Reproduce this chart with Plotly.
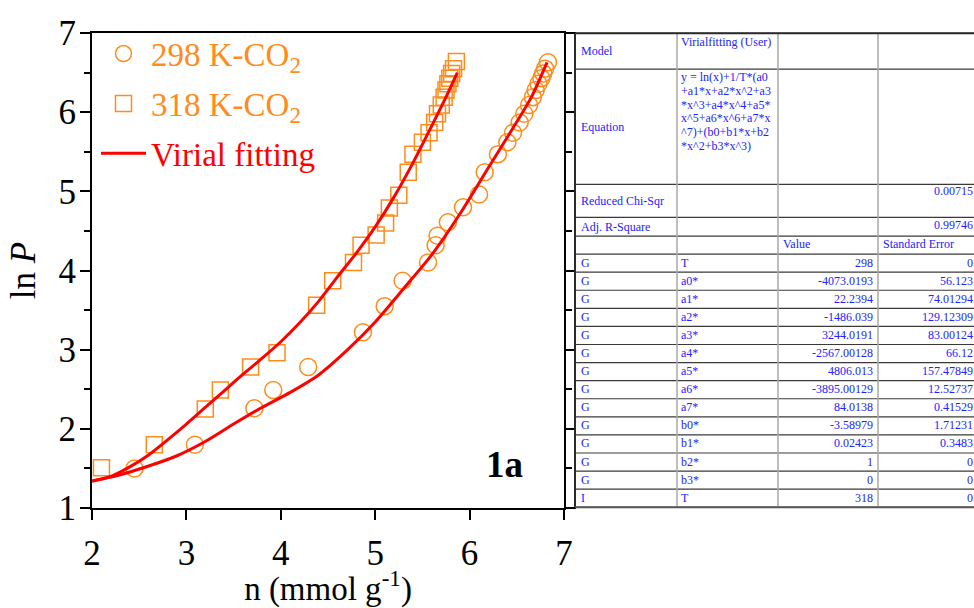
import plotly.graph_objects as go

# ---------------- data ----------------
n_298 = [2.45, 3.09, 3.72, 3.92, 4.29, 4.87, 5.10, 5.29, 5.56, 5.64, 5.66, 5.77, 5.93, 6.10,
         6.16, 6.30, 6.40, 6.46, 6.53, 6.58, 6.63, 6.67, 6.70, 6.73, 6.76, 6.78, 6.80, 6.83]
lnp_298 = [1.50, 1.80, 2.26, 2.49, 2.78, 3.22, 3.55, 3.87, 4.10, 4.32, 4.44, 4.61, 4.80, 4.96,
           5.24, 5.47, 5.62, 5.74, 5.87, 5.98, 6.09, 6.19, 6.28, 6.36, 6.43, 6.49, 6.55, 6.63]
n_318 = [2.10, 2.66, 3.20, 3.36, 3.68, 3.96, 4.38, 4.55, 4.77, 4.85, 5.01, 5.11, 5.15, 5.25,
         5.35, 5.40, 5.50, 5.57, 5.63, 5.66, 5.70, 5.73, 5.75, 5.77, 5.79, 5.81, 5.83, 5.86]
lnp_318 = [1.51, 1.80, 2.25, 2.49, 2.78, 2.96, 3.56, 3.87, 4.10, 4.32, 4.45, 4.60, 4.79, 4.95,
           5.24, 5.47, 5.62, 5.74, 5.87, 5.98, 6.09, 6.19, 6.28, 6.36, 6.43, 6.49, 6.55, 6.64]

fit_n_298 = [2.00, 2.30, 2.60, 2.90, 3.20, 3.50, 3.80, 4.10, 4.40, 4.70, 5.00, 5.30, 5.60,
             5.90, 6.20, 6.45, 6.65, 6.82]
fit_lnp_298 = [1.34, 1.42, 1.53, 1.66, 1.84, 2.06, 2.27, 2.46, 2.68, 2.99, 3.35, 3.77, 4.20,
               4.72, 5.30, 5.78, 6.18, 6.63]
fit_n_318 = [2.00, 2.20, 2.40, 2.60, 2.80, 3.00, 3.20, 3.40, 3.60, 3.80, 4.00, 4.20, 4.40,
             4.60, 4.80, 5.00, 5.20, 5.40, 5.60, 5.75, 5.87]
fit_lnp_318 = [1.34, 1.40, 1.52, 1.67, 1.86, 2.06, 2.27, 2.48, 2.69, 2.89, 3.10, 3.34, 3.61,
               3.92, 4.22, 4.55, 4.93, 5.36, 5.83, 6.19, 6.50]

x_ticks = [2, 3, 4, 5, 6, 7]
y_ticks = [1, 2, 3, 4, 5, 6, 7]

# table content
top_labels = ["Model", "Equation", "Reduced Chi-Sqr", "Adj. R-Square"]
model_name = "Virialfitting (User)"
equation_lines = ["y = ln(x)+1/T*(a0", "+a1*x+a2*x^2+a3", "*x^3+a4*x^4+a5*",
                  "x^5+a6*x^6+a7*x", "^7)+(b0+b1*x+b2", "*x^2+b3*x^3)"]
chi_sqr = "0.00715"
adj_r2 = "0.99746"
header_cols = ["Value", "Standard Error"]
param_groups = ["G"] * 13 + ["I"]
param_names = ["T", "a0*", "a1*", "a2*", "a3*", "a4*", "a5*", "a6*", "a7*",
               "b0*", "b1*", "b2*", "b3*", "T"]
param_values = ["298", "-4073.0193", "22.2394", "-1486.039", "3244.0191", "-2567.00128",
                "4806.013", "-3895.00129", "84.0138", "-3.58979", "0.02423", "1", "0", "318"]
param_errors = ["0", "56.123", "74.01294", "129.12309", "83.00124", "66.12", "157.47849",
                "12.52737", "0.41529", "1.71231", "0.3483", "0", "0", "0"]

# ---------------- style ----------------
W, H = 974, 608
PL, PR, PT, PB = 92, 564, 32.7, 524          # plot area in pixels
SERIF = "Liberation Serif, Times New Roman, serif"
ORANGE = "#FF8C1A"
RED = "#FF0000"
BLUE = "#2222FF"


def px(x):
    return (x - PL) / (PR - PL)


def py(y):
    return (PB - y) / (PB - PT)


fig = go.Figure()
fig.add_trace(go.Scatter(x=n_298, y=lnp_298, mode="markers", name="298 K-CO<sub>2</sub>",
                         legendgroup="a",
                         marker=dict(symbol="circle-open", size=17, color=ORANGE,
                                     line=dict(width=1.5, color=ORANGE))))
fig.add_trace(go.Scatter(x=n_318, y=lnp_318, mode="markers", name="318 K-CO<sub>2</sub>",
                         legendgroup="b",
                         marker=dict(symbol="square-open", size=16, color=ORANGE,
                                     line=dict(width=1.5, color=ORANGE))))
fig.add_trace(go.Scatter(x=fit_n_298, y=fit_lnp_298, mode="lines", legendgroup="c",
                         name="<span style='color:#FF0000'>Virial fitting</span>",
                         line=dict(color=RED, width=3, shape="spline", smoothing=0.8)))
fig.add_trace(go.Scatter(x=fit_n_318, y=fit_lnp_318, mode="lines", showlegend=False,
                         legendgroup="c",
                         line=dict(color=RED, width=3, shape="spline", smoothing=0.8)))

fig.add_annotation(x=6.37, y=1.55, xref="x", yref="y", text="<b>1a</b>", showarrow=False,
                   font=dict(family=SERIF, size=37, color="black"))

# ---------------- table ----------------
col_edges = [575, 677, 778, 878, 990]
row_edges = [33, 70, 189.3, 223.3, 242.7]
row_h = 18.7
for i in range(15):
    row_edges.append(242.7 + row_h * (i + 1))

shapes = []
for yv in row_edges:
    shapes.append(dict(type="line", xref="paper", yref="paper", x0=px(575), x1=px(990),
                       y0=py(yv), y1=py(yv), line=dict(color="#3a3a3a", width=1.2)))
for xv in col_edges[1:4]:
    shapes.append(dict(type="line", xref="paper", yref="paper", x0=px(xv), x1=px(xv),
                       y0=py(row_edges[0]), y1=py(row_edges[-1]),
                       line=dict(color="#a8a8a8", width=1.5)))
shapes.append(dict(type="line", xref="paper", yref="paper", x0=px(575), x1=px(575),
                   y0=py(row_edges[0]), y1=py(row_edges[-1]), line=dict(color="#2a2a2a", width=2)))
shapes.append(dict(type="line", xref="paper", yref="paper", x0=px(575), x1=px(990),
                   y0=py(row_edges[0]), y1=py(row_edges[0]), line=dict(color="#2a2a2a", width=2)))
shapes.append(dict(type="line", xref="paper", yref="paper", x0=px(575), x1=px(990),
                   y0=py(row_edges[-1]), y1=py(row_edges[-1]), line=dict(color="#555555", width=2)))

tfont = dict(family=SERIF, size=12, color=BLUE)
ann = []


def txt(x, y, s, anchor="left"):
    ann.append(dict(x=px(x), y=py(y), xref="paper", yref="paper", text=s, showarrow=False,
                    xanchor=anchor, yanchor="middle", font=tfont))


x_c1, x_c2, x_c3r, x_c4r = 579, 679, 875, 975
for i, lab in enumerate(top_labels):
    txt(x_c1, (row_edges[i] + row_edges[i + 1]) / 2, lab)
txt(x_c2, 42.5, model_name)
for k, line in enumerate(equation_lines):
    txt(x_c2, 78.5 + 14.2 * k, line)
txt(x_c4r, 196, chi_sqr, "right")
txt(x_c4r, 231.5, adj_r2, "right")
txt(781, 250.5, header_cols[0])
txt(881, 250.5, header_cols[1])
for i in range(len(param_names)):
    yc = row_edges[5 + i] + row_h / 2 - 0.5
    txt(x_c1, yc, param_groups[i])
    txt(x_c2, yc, param_names[i])
    txt(x_c3r, yc, param_values[i], "right")
    txt(x_c4r, yc, param_errors[i], "right")

axis_font = dict(family=SERIF, size=35, color="black")
title_font = dict(family=SERIF, size=33, color="black")
fig.update_layout(
    width=W, height=H,
    margin=dict(l=PL, r=W - PR, t=PT, b=H - PB, pad=0),
    paper_bgcolor="white", plot_bgcolor="white",
    showlegend=True,
    legend=dict(x=px(96), y=py(25), xanchor="left", yanchor="top",
                bgcolor="rgba(0,0,0,0)", borderwidth=0, tracegroupgap=4, itemwidth=45,
                font=dict(family=SERIF, size=33, color=ORANGE), itemsizing="trace"),
    xaxis=dict(range=[2, 7], tickvals=x_ticks, ticks="outside", ticklen=10, tickwidth=2,
               tickcolor="black", showline=True, linewidth=2, linecolor="black", mirror=True,
               showgrid=False, zeroline=False, tickfont=axis_font, ticklabelstandoff=3,
               title=dict(text="n (mmol g<sup>-1</sup>)", font=title_font, standoff=0)),
    yaxis=dict(range=[1, 7], tickvals=y_ticks, ticks="outside", ticklen=10, tickwidth=2,
               tickcolor="black", showline=True, linewidth=2, linecolor="black", mirror="ticks",
               showgrid=False, zeroline=False, tickfont=axis_font, ticklabelstandoff=-3,
               minor=dict(dtick=0.5, ticks="outside", ticklen=6, tickwidth=2, tickcolor="black",
                          showgrid=False),
               title=dict(text="ln <i>P</i>", font=axis_font, standoff=12)),
    shapes=shapes,
    annotations=fig.layout.annotations + tuple(ann),
)

fig.write_html("out.html")
